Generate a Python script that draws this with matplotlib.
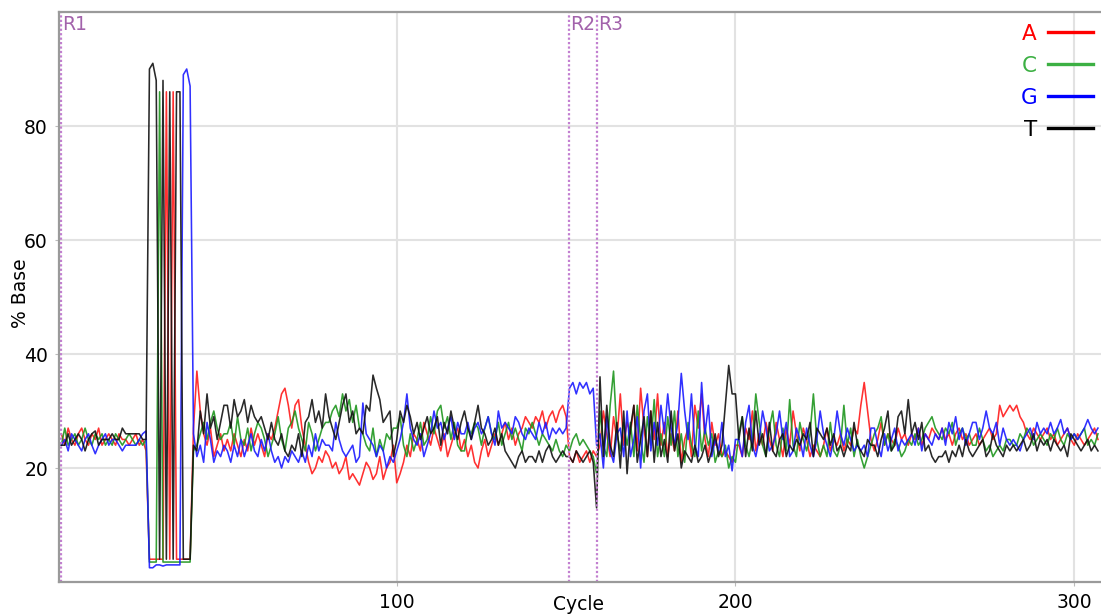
import numpy as np
import matplotlib
matplotlib.use("Agg")
import matplotlib.pyplot as plt
from matplotlib.lines import Line2D

# % of each base per cycle (cycles 1..307)
a_pct = [26, 24, 27, 25, 24, 26, 27, 25, 24, 26, 25, 27, 24, 25, 26, 25, 24, 26, 25, 25, 24, 25, 26, 24, 25, 23,
         4, 4, 4, 4, 4, 86, 4, 86, 4, 4, 4, 4, 4,
         27, 37, 30, 26, 24, 27, 22, 24, 26, 23,
         25, 23, 26, 24, 22, 25, 23, 27, 24, 26,
         24, 22, 26, 25, 27, 30, 33, 34, 31, 27,
         31, 32, 27, 24, 21, 19, 20, 22, 21, 23,
         22, 20, 21, 19, 20, 22, 18, 19, 18, 17,
         19, 21, 20, 18, 19, 22, 18, 20, 21, 24,
         17.4, 19, 21, 24, 22, 26, 25, 23, 28, 26,
         24, 27, 25, 23, 26, 22, 24, 26, 27, 23,
         25, 22, 24, 21, 20, 23, 25, 22, 24, 26,
         24, 26, 28, 25, 27, 24, 26, 27, 29, 28,
         27, 29, 28, 30, 27, 29, 30, 28, 30, 31, 29,
         22, 21, 23, 21, 22, 23, 21, 23,
         22, 24, 30, 26, 22, 29, 25, 33, 24, 28,
         26, 31, 23, 34, 27, 22, 30, 25, 33, 24,
         28, 22, 26, 23, 30, 21, 25, 27, 22, 31,
         27, 33, 25, 22, 28, 24, 26, 22, 23, 22, 21, 24,
         24, 22, 27, 25, 30, 23, 26, 24, 28, 25,
         23, 28, 25, 22, 27, 24, 30, 26, 23, 27,
         25, 22, 24, 23, 22, 24, 27, 23, 25, 24,
         26, 23, 25, 24, 27, 26, 31, 35, 30, 25,
         23, 25, 28, 24, 26, 25, 24, 27, 25, 26,
         24, 26, 25, 27, 24, 26, 25, 27, 26, 25,
         27, 25, 26, 24, 26, 27, 25, 26, 24, 25,
         26, 24, 25, 26, 27, 25, 26, 31, 29, 30,
         31, 30, 31, 29, 28, 26, 25, 27, 26, 25,
         26, 27, 25, 26, 24, 25, 26, 27, 25, 24,
         26, 25, 24, 25, 26, 27, 25]

c_pct = [24, 27, 24, 25, 26, 24, 25, 27, 25, 24, 26, 25, 26, 24, 25, 24, 26, 25, 24, 25, 26, 25, 24, 25, 24, 25,
         3.5, 3.5, 3.5, 86, 3.5, 3.5, 3.5, 3.5, 3.5, 3.5, 3.5, 3.5, 3.5,
         23, 24, 26, 28, 25, 28, 30, 27, 25, 26,
         26, 28, 24, 29, 25, 24, 27, 23, 26, 28,
         27, 25, 22, 24, 26, 29, 25, 23, 27, 28,
         30, 27, 25, 23, 28, 26, 23, 25, 27, 28,
         28, 30, 31, 29, 33, 30, 32, 28, 31, 27,
         26, 24, 23, 27, 22, 25, 23, 26, 25, 27,
         27, 29, 24, 22, 26, 23, 25, 28, 24, 25,
         29, 26, 30, 31, 27, 29, 25, 28, 24, 23,
         23, 27, 26, 28, 27, 24, 27, 29, 26, 25,
         28, 24, 26, 28, 25, 27, 25, 23, 27, 26,
         28, 26, 24, 26, 25, 24, 23, 25, 23, 22, 24,
         23, 25, 26, 24, 25, 24, 23, 22,
         19, 30, 24, 22, 31, 37, 26, 23, 28, 24,
         28, 22, 31, 25, 21, 29, 24, 32, 22, 26,
         22, 29, 24, 30, 22, 26, 21, 28, 24, 22,
         30, 23, 27, 24, 26, 21, 23, 22, 24, 20, 22, 21,
         26, 29, 24, 22, 25, 33, 28, 24, 22, 27,
         30, 24, 22, 27, 23, 32, 24, 22, 28, 25,
         23, 26, 33, 25, 22, 24, 22, 28, 23, 22,
         24, 31, 24, 27, 22, 25, 22, 20, 22, 24,
         26, 27, 29, 24, 26, 23, 25, 24, 22, 23,
         25, 24, 26, 24, 25, 27, 28, 29, 27, 26,
         25, 27, 26, 28, 24, 26, 27, 25, 26, 24,
         24, 27, 25, 23, 24, 22, 23, 24, 23, 25,
         25, 24, 24, 26, 25, 27, 26, 24, 25, 26,
         25, 24, 26, 25, 27, 25, 24, 26, 25, 26,
         25, 26, 27, 24, 25, 24, 26]

g_pct = [24, 25, 23, 26, 25, 24, 23, 25, 26, 24, 22.5, 24, 25, 26, 24, 25, 25, 24, 23, 24, 24, 24, 24, 25, 26, 26.5,
         2.5, 2.5, 3, 3, 2.8, 3, 3, 3, 3, 3, 89, 90, 87,
         26, 22, 24, 21, 28, 25, 21, 23, 22, 24,
         23, 21, 24, 22, 25, 22, 24, 26, 23, 22,
         25, 23, 26, 23, 21, 22, 20, 22, 21, 23,
         22, 21, 23, 21, 24, 22, 26, 23, 25, 24,
         24, 23, 28, 25, 23, 22, 23, 24, 21, 22,
         31.4, 26, 25, 24, 22, 24, 23, 20, 22, 21,
         23, 25, 28, 33, 27, 25, 24, 26, 22, 24,
         26, 30, 27, 28, 25, 27, 29, 25, 28, 26,
         26, 28, 25, 27, 28, 26, 27, 29, 26, 24,
         30, 27, 28, 27, 26, 29, 28, 26, 25, 27,
         26, 25, 28, 26, 28, 25, 27, 26, 27, 26, 27,
         34, 35, 33, 35, 34, 35, 33, 34,
         24, 26, 20, 29, 23, 21, 26, 27, 22, 30,
         22, 25, 29, 20, 30, 33, 23, 28, 24, 31,
         26, 33, 27, 24, 28, 36.6, 30, 25, 33, 24,
         22, 35, 26, 31, 22, 25, 23, 28, 22, 24, 19.5, 25,
         25, 22, 28, 31, 24, 22, 25, 30, 27, 23,
         24, 26, 30, 25, 28, 22, 23, 27, 25, 22,
         27, 24, 22, 25, 30, 26, 24, 22, 25, 30,
         26, 24, 27, 25, 23, 24, 23, 24, 22, 27,
         27, 24, 22, 26, 23, 25, 27, 23, 25, 24,
         25, 26, 24, 27, 23, 26, 25, 24, 26, 25,
         27, 24, 28, 26, 29, 25, 27, 24, 26, 28,
         28, 25, 27, 30, 27, 26, 28, 24, 27, 25,
         24, 25, 24, 23, 25, 26, 27, 25, 28, 26,
         27, 26, 28, 26, 27, 28.5, 26, 27, 25, 26,
         25, 26, 27, 28.5, 27, 26, 27]

t_pct = [24, 24, 26, 24, 25, 26, 25, 23, 25, 26, 26.5, 24, 25, 25, 25, 26, 25, 25, 27, 26, 26, 26, 26, 26, 25, 25,
         90, 91, 88, 4, 88, 4, 86, 4, 86, 86, 4, 4, 4,
         24, 23, 30, 26, 33, 27, 29, 25, 28, 31,
         31, 27, 32, 29, 30, 32, 28, 31, 29, 28,
         29, 27, 25, 28, 25, 24, 26, 23, 22, 24,
         23, 26, 22, 28, 29, 32, 28, 30, 27, 33,
         29, 27, 25, 28, 31, 33, 28, 30, 26, 27,
         26, 31, 30, 36.3, 34, 32, 28, 29, 30, 22,
         25, 30, 28, 31, 29, 26, 28, 25, 27, 29,
         26, 27, 29, 24, 28, 26, 30, 27, 25, 28,
         30, 27, 25, 28, 31, 27, 26, 24, 25, 27,
         24, 26, 23, 22, 21, 20, 22, 23, 21, 22,
         22, 21, 23, 21, 23, 24, 22, 21, 22, 23, 22,
         22, 21, 23, 22, 21, 22, 23, 21,
         13, 36, 22, 31, 24, 22, 28, 20, 30, 19,
         27, 31, 21, 25, 29, 22, 30, 21, 28, 22,
         25, 21, 30, 23, 26, 20, 23, 22, 21, 24,
         21, 22, 24, 21, 23, 26, 22, 24, 31, 38, 33, 33,
         25, 29, 22, 27, 23, 30, 24, 26, 22, 28,
         23, 22, 25, 26, 22, 24, 23, 25, 24, 26,
         25, 28, 22, 27, 26, 25, 27, 24, 26, 23,
         24, 22, 24, 23, 28, 24, 23, 22, 25, 24,
         24, 22, 25, 27, 30, 23, 24, 29, 30, 26,
         32, 26, 28, 25, 28, 23, 24, 22, 21, 22,
         22, 23, 21, 23, 22, 24, 22, 25, 23, 22,
         23, 24, 25, 22, 23, 26, 24, 23, 22, 24,
         23, 24, 23, 24, 25, 23, 24, 26, 23, 25,
         24, 25, 23, 25, 24, 23, 24, 22, 26, 25,
         24, 23, 24, 25, 23, 24, 23]

bases = ["A", "C", "G", "T"]
line_colors = ["#ff1a1a", "#1e961e", "#1a1aff", "#111111"]
legend_colors = ["#ff0000", "#3cb043", "#0000ff", "#000000"]

region_names = ["R1", "R2", "R3"]
region_cycles = [0.9, 150.9, 159.1]

for s in (a_pct, c_pct, g_pct, t_pct):
    assert len(s) == 307, len(s)

cycles = np.arange(1, len(a_pct) + 1)

plt.rcParams['font.family'] = ['DejaVu Sans']

fig = plt.figure(figsize=(11.01, 6.16), dpi=100)
ax = fig.add_axes([59 / 1101, 1 - 582 / 616, 1 - 59 / 1101, 570 / 616])

ax.grid(True, color='#e2e2e2', lw=1.5)
ax.set_axisbelow(True)

for vals, col in zip((a_pct, c_pct, g_pct, t_pct), line_colors):
    ax.plot(cycles, vals, color=col, lw=1.15, alpha=0.9)

for name, xr in zip(region_names, region_cycles):
    ax.axvline(xr, color='#c27fd0', lw=1.6, ls=(0, (1, 1)))
    ax.text(xr + 0.4, 99.5, name, color='#a262ab', fontsize=13.5, ha='left', va='top')

ax.set_xlim(0.3, 307.9)
ax.set_ylim(0, 100)
ax.set_xticks([100, 200, 300])
ax.set_yticks([20, 40, 60, 80])
ax.tick_params(labelsize=13.5, length=3, color='#bbbbbb', pad=5)

for side in ('top', 'bottom', 'left'):
    ax.spines[side].set_color('#9a9a9a')
    ax.spines[side].set_linewidth(1.6)
ax.spines['right'].set_visible(False)

fig.text(579 / 1101, 1 - 604 / 616, 'Cycle', fontsize=13.5, ha='center', va='center')
fig.text(20 / 1101, 1 - 293 / 616, '% Base', fontsize=13.5, rotation=90, ha='center', va='center')

handles = [Line2D([], [], color=c, lw=2.4) for c in legend_colors]
leg = ax.legend(handles, bases, loc='upper right', bbox_to_anchor=(1 - 8 / 1042, 1 - 12 / 570),
                markerfirst=False, frameon=False, fontsize=15.5, labelcolor=legend_colors,
                handlelength=2.1, handletextpad=0.5, labelspacing=0.55,
                borderpad=0, borderaxespad=0)

fig.savefig('out.png', dpi=100)
